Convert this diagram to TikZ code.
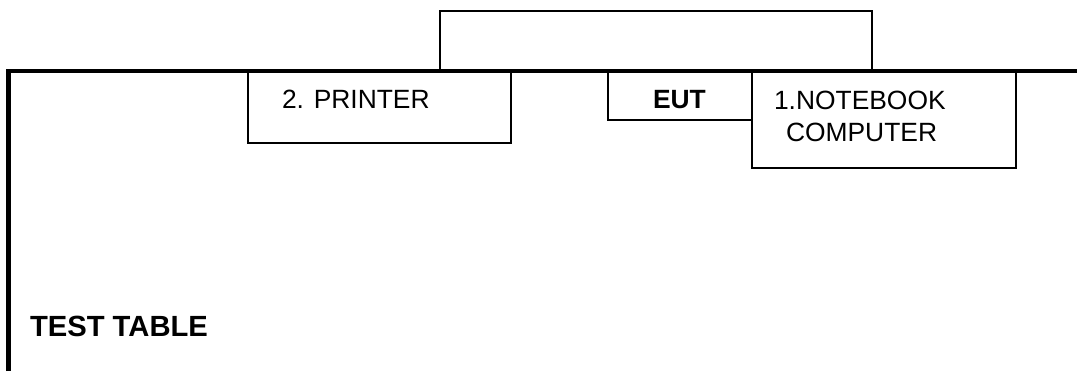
\documentclass[tikz,border=0pt]{standalone}
\usepackage{fontspec}
\setmainfont{Liberation Sans}
\tikzset{
  px/.style={x=0.75pt,y=-0.75pt},
  boxn/.style={draw=black,line width=1.3pt,fill=white,rectangle,inner sep=0pt,outer sep=0pt,anchor=north west},
  lbl/.style={font=\fontsize{19.8pt}{24pt}\selectfont,inner sep=0pt,outer sep=0pt,anchor=base west,align=left},
  biglbl/.style={font=\fontsize{21.9pt}{26pt}\selectfont\bfseries,inner sep=0pt,outer sep=0pt,anchor=base west},
  heavy/.style={line width=3.2pt,line cap=butt},
  thin/.style={line width=1.5pt}
}
\begin{document}
\begin{tikzpicture}[px]
\useasboundingbox (0,0) rectangle (1077,371);
% link above the table
\coordinate (tl) at (440,71);
\coordinate (tr) at (872,71);
\coordinate (tlu) at (440,11);
\coordinate (tru) at (872,11);
\draw[thin] (tl) -- (tlu) -- (tru) -- (tr);
% boxes
\node[boxn,minimum width=197.25pt,minimum height=53.25pt] (printer) at (248,72) {};
\node[boxn,minimum width=108pt,minimum height=36pt] (eut) at (608,72) {};
\node[boxn,minimum width=198pt,minimum height=72pt] (notebook) at (752,72) {};
% table edge
\coordinate (a) at (8.5,371);
\coordinate (b) at (8.5,71.2);
\coordinate (c) at (1077,71.2);
\draw[heavy,line join=miter] (a) -- (b) -- (c);
% labels
\node[lbl] (t2) at (282,108) {2. PRINTER};
\node[lbl] (t3) at (653,108) {\bfseries EUT};
\node[lbl] (t1a) at (774,109) {1.NOTEBOOK};
\node[lbl] (t1b) at (786,141) {COMPUTER};
\node[biglbl] (t4) at (30,336) {TEST TABLE};
\end{tikzpicture}
\end{document}
